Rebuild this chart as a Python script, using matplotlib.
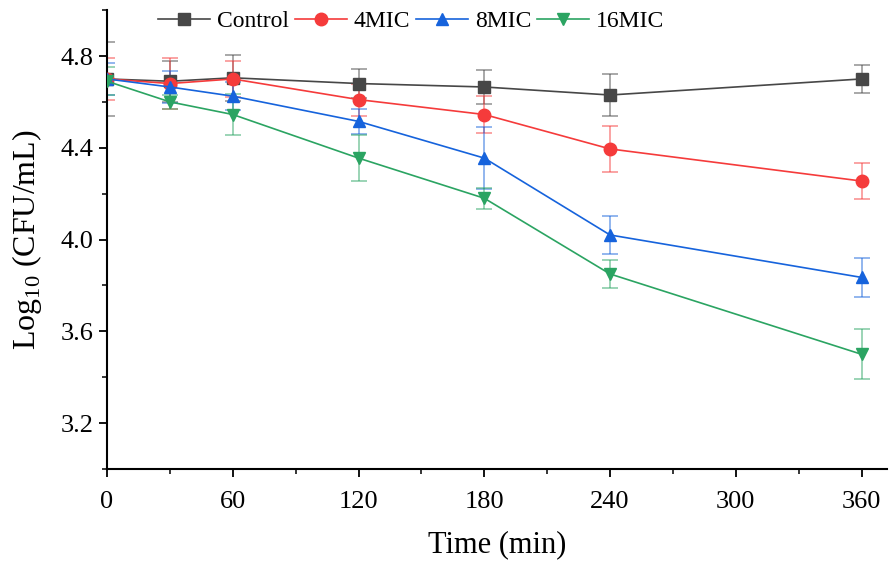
import matplotlib.pyplot as plt
import numpy as np

plt.rcParams['font.family'] = ['Liberation Serif', 'DejaVu Serif']
plt.rcParams['mathtext.fontset'] = 'custom'
plt.rcParams['mathtext.rm'] = 'Liberation Serif'

time = [0, 30, 60, 120, 180, 240, 360]

control = [4.70, 4.69, 4.705, 4.68, 4.665, 4.63, 4.70]
control_err = [0.16, 0.09, 0.10, 0.065, 0.075, 0.09, 0.06]
mic4 = [4.70, 4.68, 4.70, 4.61, 4.545, 4.395, 4.255]
mic4_err = [0.09, 0.11, 0.08, 0.07, 0.08, 0.10, 0.078]
mic8 = [4.70, 4.665, 4.625, 4.515, 4.355, 4.02, 3.835]
mic8_err = [0.07, 0.07, 0.06, 0.055, 0.136, 0.082, 0.084]
mic16 = [4.69, 4.60, 4.545, 4.355, 4.18, 3.85, 3.50]
mic16_err = [0.06, 0.03, 0.09, 0.10, 0.045, 0.06, 0.108]

series = [
    ('Control', control, control_err, '#474747', 's'),
    ('4MIC', mic4, mic4_err, '#f53b3b', 'o'),
    ('8MIC', mic8, mic8_err, '#1663dc', '^'),
    ('16MIC', mic16, mic16_err, '#2ba462', 'v'),
]

fig = plt.figure(figsize=(8.89, 5.62), dpi=100)
ax = fig.add_axes([0.1204, 0.1655, 0.877, 0.8165])

handles = []
for name, vals, errs, color, marker in series:
    ax.errorbar(time, vals, yerr=errs, fmt='none', ecolor=color, alpha=0.55,
                elinewidth=1.2, capsize=5.5, capthick=1.2, zorder=2)
    h, = ax.plot(time, vals, color=color, marker=marker, markersize=9,
                 linewidth=1.2, label=name, zorder=3)
    handles.append(h)

ax.set_xlim(0, 372)
ax.set_ylim(3.0, 5.0)
ax.set_xticks([0, 60, 120, 180, 240, 300, 360])
ax.set_xticks(np.arange(30, 372, 60), minor=True)
ax.set_yticks([3.2, 3.6, 4.0, 4.4, 4.8])
ax.set_yticks([3.0, 3.4, 3.8, 4.2, 4.6, 5.0], minor=True)
ax.tick_params(axis='both', which='major', direction='out', length=6, width=1.3,
               labelsize=19)
ax.tick_params(axis='x', which='major', pad=10)
ax.tick_params(axis='both', which='minor', direction='out', length=3.5, width=1.1)

for side in ['top', 'right']:
    ax.spines[side].set_visible(False)
for side in ['left', 'bottom']:
    ax.spines[side].set_linewidth(1.5)

ax.set_xlabel('Time (min)', fontsize=22, labelpad=12)
ax.set_ylabel(r'Log$_{10}$ (CFU/mL)', fontsize=23, labelpad=12)

ax.legend(handles=handles, loc='upper center', bbox_to_anchor=(0.39, 1.045),
          ncol=4, frameon=False, fontsize=17, handlelength=2.2,
          handletextpad=0.3, columnspacing=0.25, markerscale=1.0)

fig.savefig('out.png', dpi=100)
